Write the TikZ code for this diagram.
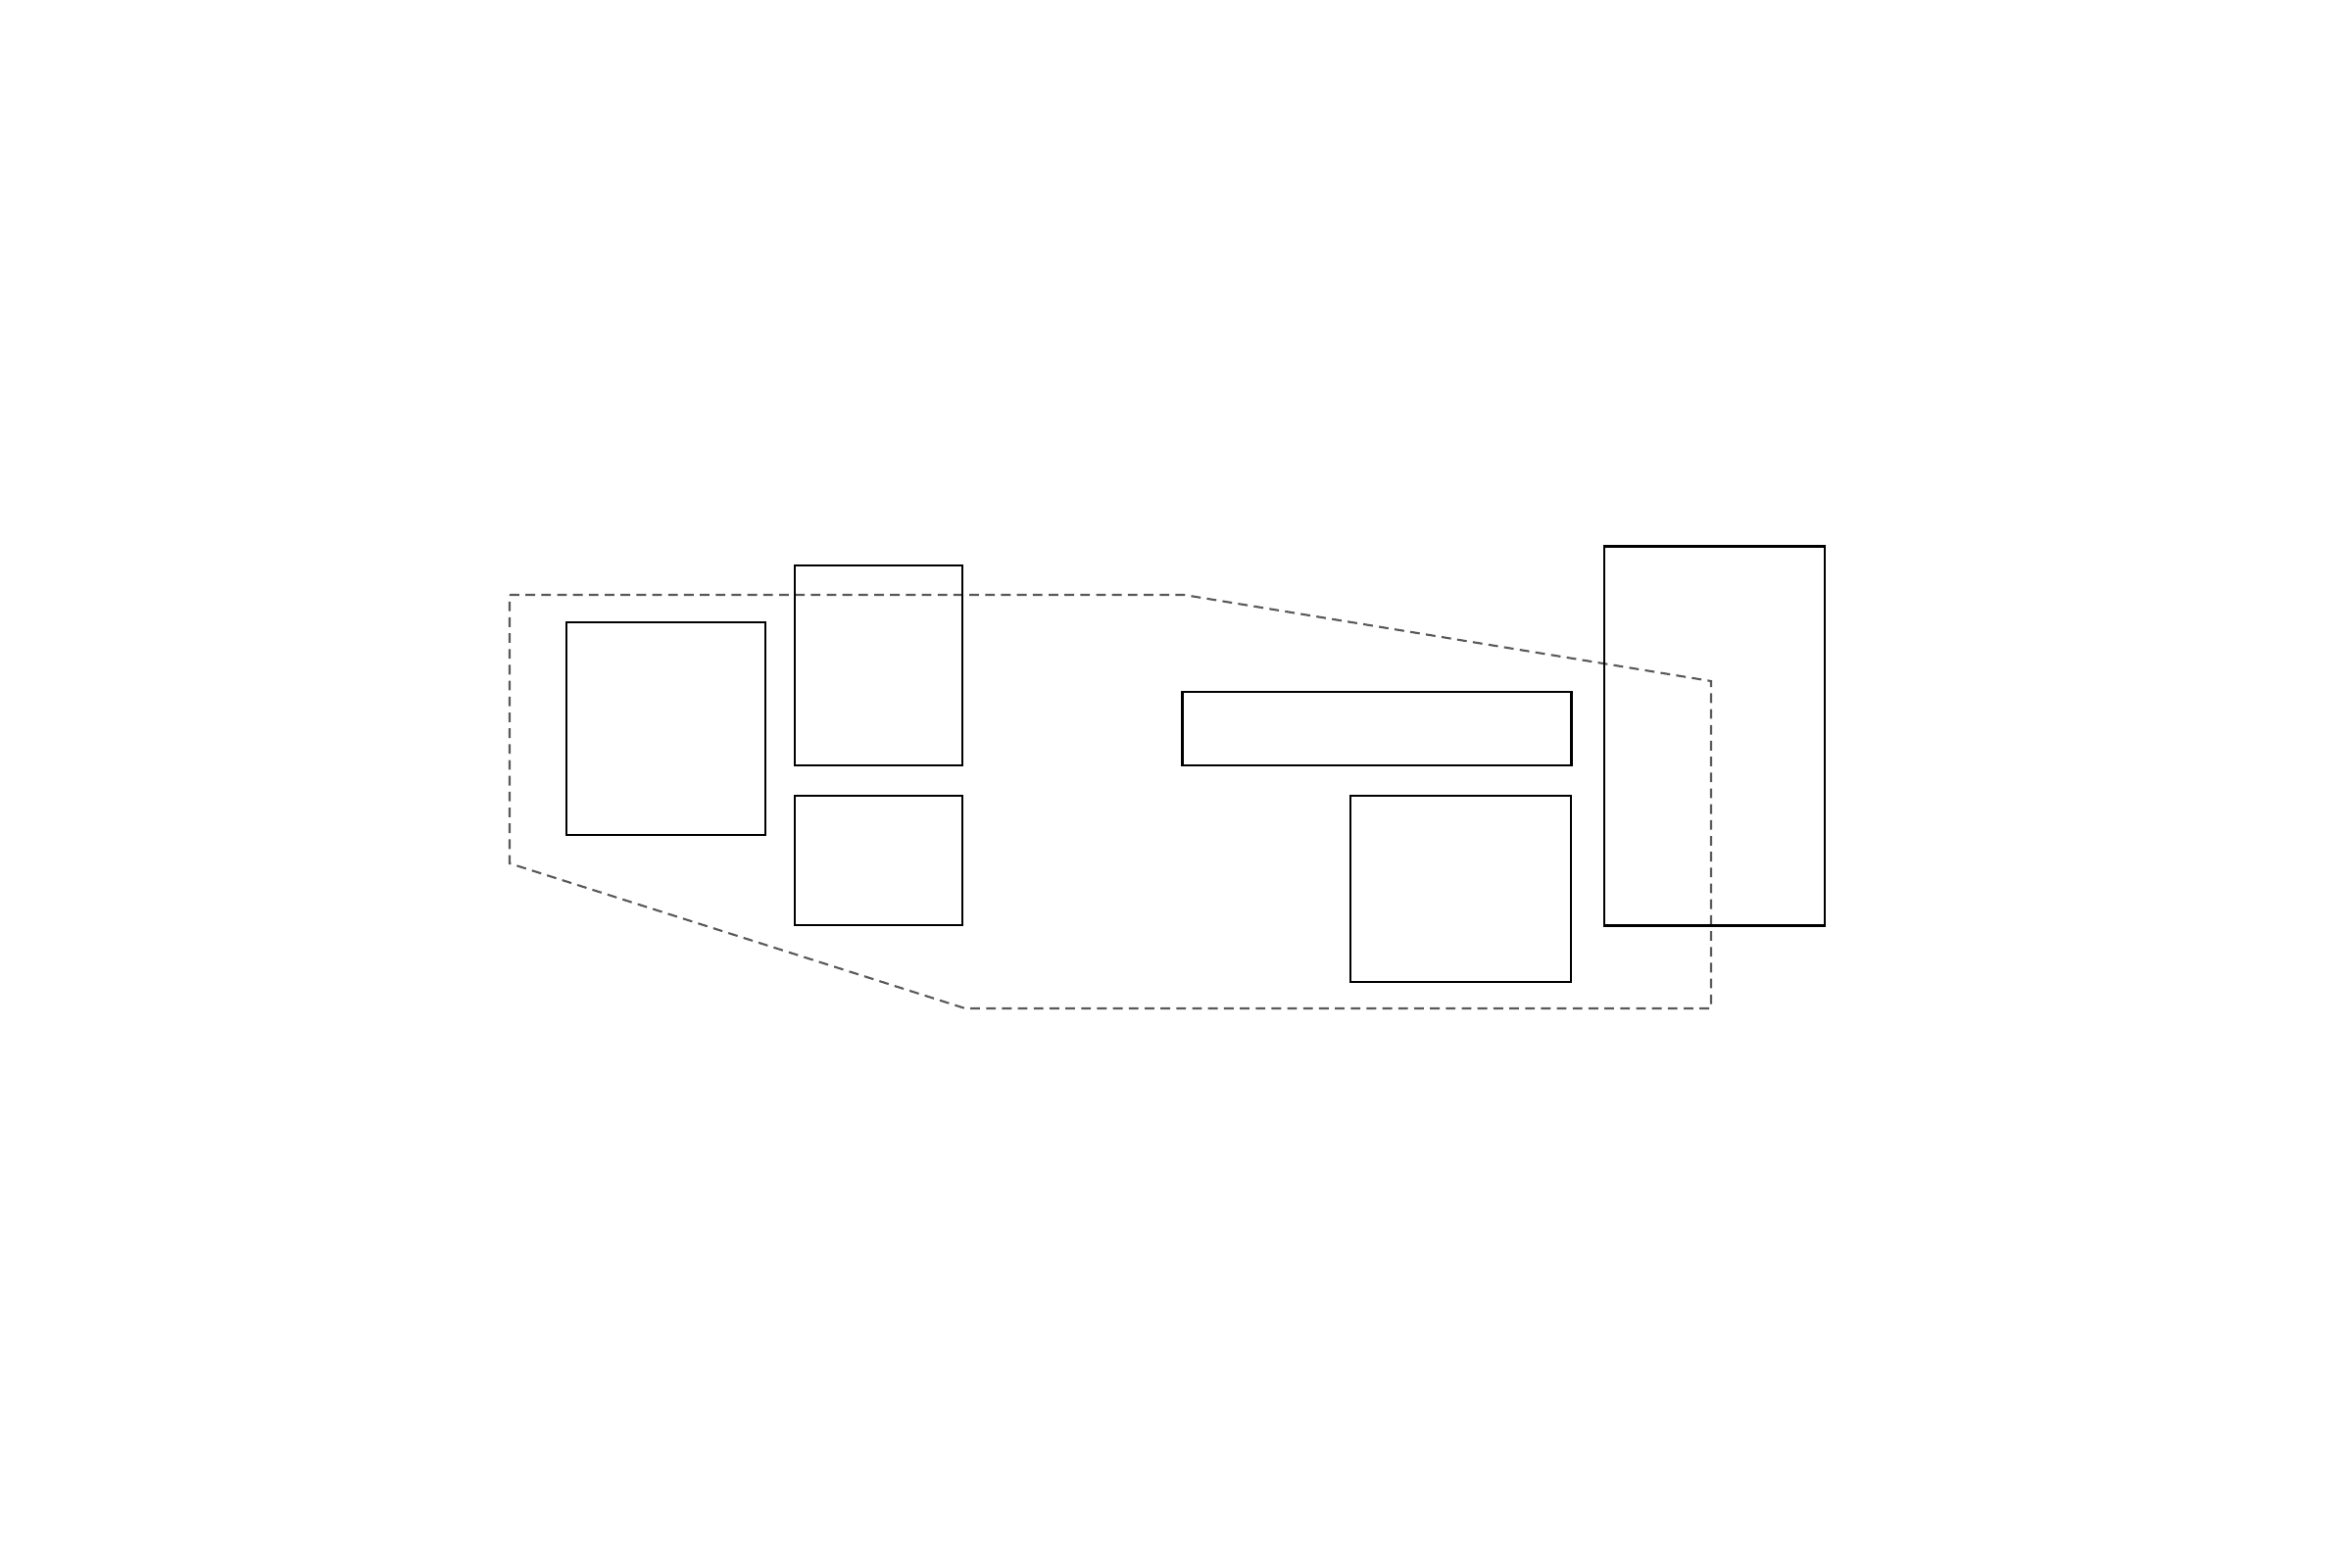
\documentclass[tikz,border=0pt]{standalone}
\begin{document}
\begin{tikzpicture}[x=0.01cm,y=-0.01cm,
  box/.style={draw=black, line width=0.8pt, inner sep=0pt, fill=none},
  outline/.style={draw=black!65, line width=0.6pt, dash pattern=on 2.8pt off 1.8pt, line join=miter}]
\useasboundingbox (0,0) rectangle (2400,1600);
\fill[white] (0,0) rectangle (2400,1600);
% dashed outline
\coordinate (p1) at (520,607);
\coordinate (p2) at (1208,607);
\coordinate (p3) at (1746,695);
\coordinate (p4) at (1746,1029);
\coordinate (p5) at (985,1029);
\coordinate (p6) at (520,881);
\draw[outline] (p1) -- (p2) -- (p3) -- (p4) -- (p5) -- (p6) -- cycle;
% boxes
\node[box, minimum width=2.03cm, minimum height=2.17cm] (A) at (679.5,743.5) {};
\node[box, minimum width=1.71cm, minimum height=2.04cm] (B) at (896.5,679) {};
\node[box, minimum width=1.71cm, minimum height=1.32cm] (C) at (896.5,878) {};
\node[box, minimum width=3.96cm, minimum height=0.75cm] (D) at (1405,743.5) {};
\node[box, minimum width=2.25cm, minimum height=1.90cm] (E) at (1490.5,907) {};
\node[box, minimum width=2.25cm, minimum height=3.86cm] (F) at (1749.5,751) {};
\end{tikzpicture}
\end{document}
